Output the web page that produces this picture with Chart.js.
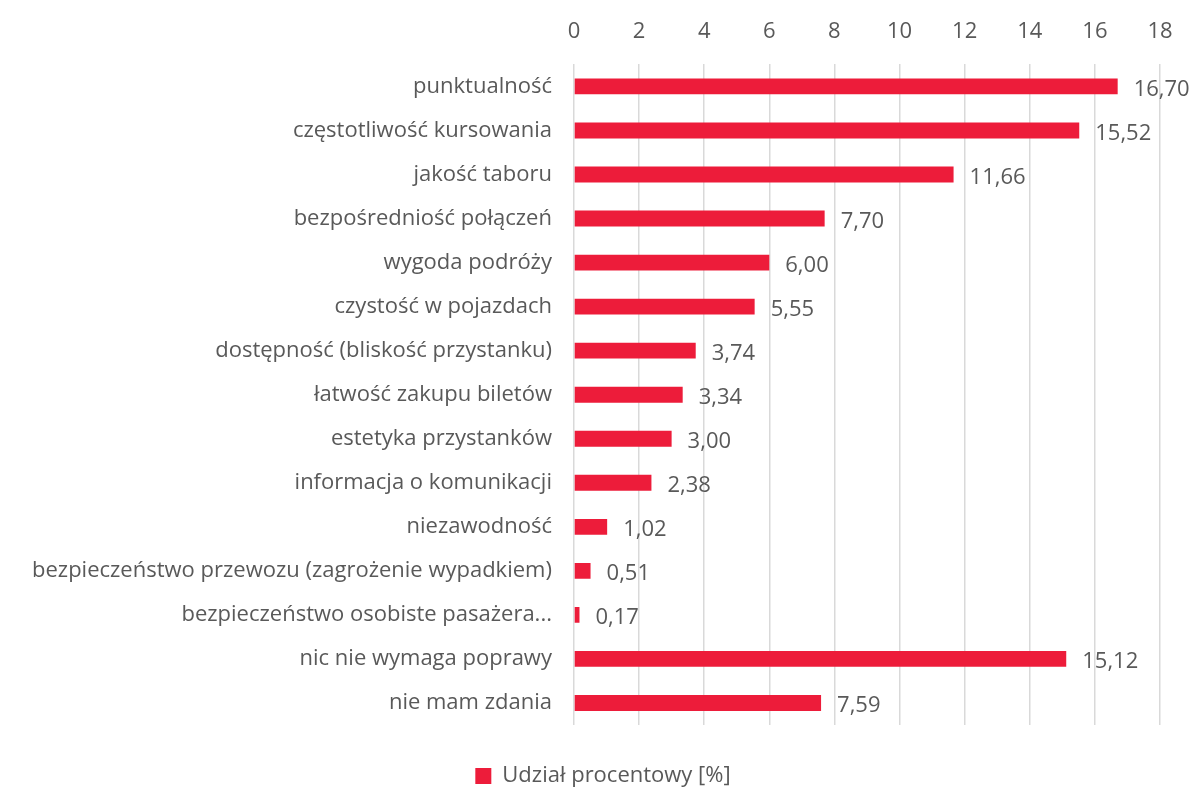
<!DOCTYPE html>
<html>
<head>
<meta charset="utf-8">
<script src="https://cdn.jsdelivr.net/npm/chart.js@4"></script>
<style>
    html, body { margin: 0; padding: 0; background: #fff; }
    #wrap { width: 1192px; height: 790px; }
</style>
</head>
<body>
<div id="wrap"><canvas id="wykres"></canvas></div>
<script>
const kategorie = [
    "punktualność",
    "częstotliwość kursowania",
    "jakość taboru",
    "bezpośredniość połączeń",
    "wygoda podróży",
    "czystość w pojazdach",
    "dostępność (bliskość przystanku)",
    "łatwość zakupu biletów",
    "estetyka przystanków",
    "informacja o komunikacji",
    "niezawodność",
    "bezpieczeństwo przewozu (zagrożenie wypadkiem)",
    "bezpieczeństwo osobiste pasażera...",
    "nic nie wymaga poprawy",
    "nie mam zdania",
];
const udzial = [16.70, 15.52, 11.66, 7.70, 6.00, 5.55, 3.74, 3.34, 3.00, 2.38, 1.02, 0.51, 0.17, 15.12, 7.59];
const osX = [0, 2, 4, 6, 8, 10, 12, 14, 16, 18];

const kolor = "#ED1C3A";
const szary = "#595959";
const czcionka = "'Open Sans', 'Noto Sans', sans-serif";
const rozmiar = 22;

const etykietyWartosci = {
    id: "etykietyWartosci",
    afterDatasetsDraw(chart) {
        const ctx = chart.ctx;
        ctx.save();
        ctx.font = rozmiar + "px " + czcionka;
        ctx.fillStyle = szary;
        ctx.textBaseline = "middle";
        ctx.textAlign = "left";
        chart.getDatasetMeta(0).data.forEach((el, i) => {
            const txt = udzial[i].toFixed(2).replace(".", ",");
            ctx.fillText(txt, el.x + 16, el.y + 3);
        });
        ctx.restore();
    },
};

// legenda w oryginale jest wycentrowana na całej szerokości, nie na obszarze wykresu
const przesunLegende = {
    id: "przesunLegende",
    afterLayout(chart) {
        chart.legend.left += 18;
        chart.legend.right += 18;
    },
};

new Chart(document.getElementById("wykres"), {
    type: "bar",
    data: {
        labels: kategorie,
        datasets: [
            {
                label: "Udział procentowy [%]",
                data: udzial,
                backgroundColor: kolor,
                borderWidth: 0,
                categoryPercentage: 0.72,
                barPercentage: 0.5,
            },
        ],
    },
    options: {
        indexAxis: "y",
        responsive: true,
        maintainAspectRatio: false,
        animation: false,
        layout: { padding: { left: 10, right: 32, top: 0, bottom: -7 } },
        scales: {
            x: {
                position: "top",
                min: 0,
                max: 18,
                afterBuildTicks: (axis) => {
                    axis.ticks = osX.map((v) => ({ value: v }));
                },
                grid: { color: "#d9d9d9", lineWidth: 1.5, drawTicks: false },
                border: { display: false },
                ticks: {
                    color: szary,
                    padding: 19,
                    font: { family: czcionka, size: rozmiar },
                },
            },
            y: {
                grid: { display: false, drawTicks: false },
                border: { display: false },
                ticks: {
                    color: szary,
                    padding: 22,
                    font: { family: czcionka, size: rozmiar },
                },
            },
        },
        plugins: {
            legend: {
                position: "bottom",
                title: {
                    display: true,
                    text: " ",
                    font: { size: 10, lineHeight: 1 },
                    padding: { top: 30, bottom: 0 },
                },
                labels: {
                    color: szary,
                    boxWidth: 16,
                    boxHeight: 16,
                    padding: 0,
                    font: { family: czcionka, size: rozmiar },
                },
            },
            tooltip: { enabled: false },
        },
    },
    plugins: [etykietyWartosci, przesunLegende],
});
</script>
</body>
</html>
